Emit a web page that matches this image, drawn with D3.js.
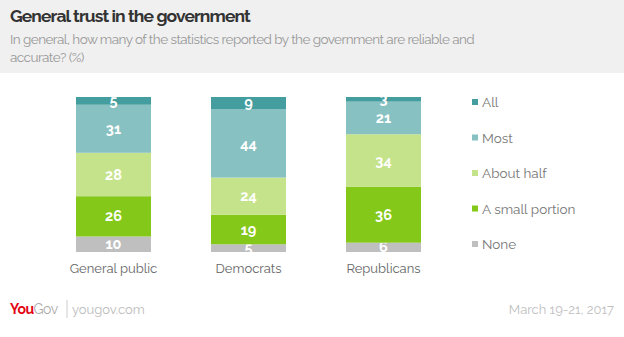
<!DOCTYPE html>
<html><head><meta charset="utf-8">
<script src="https://cdn.jsdelivr.net/npm/d3@7"></script>
<style>body{margin:0;background:#fff}svg{display:block}</style>
</head><body>
<svg id="c" width="624" height="337"></svg>
<script>
const categories = ["General public", "Democrats", "Republicans"];
const seriesNames = ["None", "A small portion", "About half", "Most", "All"];
const noneVals = [10, 5, 6];
const smallVals = [26, 19, 36];
const halfVals = [28, 24, 34];
const mostVals = [31, 44, 21];
const allVals = [5, 9, 3];
const colors = ["#bfbfbf", "#84c81a", "#c5e38a", "#88c1c2", "#449d9e"];
const legendOrder = ["All", "Most", "About half", "A small portion", "None"];

const svg = d3.select("#c");
const font = "Raleway, Lato, 'Open Sans', sans-serif";

svg.append("rect").attr("x",0).attr("y",0).attr("width",624).attr("height",73).attr("fill","#f0f0f0");
svg.append("text").attr("x",10).attr("y",22).attr("font-family",font).attr("font-size",17.5).attr("font-weight","bold").attr("letter-spacing","-0.9").attr("fill","#333").text("General trust in the government");
svg.append("text").attr("x",10).attr("y",44).attr("font-family",font).attr("font-size",13.5).attr("letter-spacing","-0.55").attr("fill","#999").text("In general, how many of the statistics reported by the government are reliable and");
svg.append("text").attr("x",10).attr("y",62).attr("font-family",font).attr("font-size",13.5).attr("letter-spacing","-0.55").attr("fill","#999").text("accurate? (%)");

const rows = categories.map((c,i)=>({cat:c,"None":noneVals[i],"A small portion":smallVals[i],"About half":halfVals[i],"Most":mostVals[i],"All":allVals[i]}));
const stack = d3.stack().keys(seriesNames)(rows);

const x = d3.scaleBand().domain(categories).range([46, 451]).paddingInner(60/135).paddingOuter(30/135);
const y = d3.scaleLinear().domain([0,100]).range([252, 97]).clamp(true);
const color = d3.scaleOrdinal().domain(seriesNames).range(colors);

const g = svg.append("g");
stack.forEach(s=>{
  s.forEach((d,i)=>{
    const y0 = y(d[0]), y1 = y(d[1]);
    g.append("rect").attr("x",x(categories[i])).attr("width",x.bandwidth())
      .attr("y",y1).attr("height",Math.max(0,y0-y1)).attr("fill",color(s.key));
    g.append("text").attr("x",x(categories[i])+x.bandwidth()/2).attr("y",(y0+y1)/2+5)
      .attr("text-anchor","middle").attr("font-family",font).attr("font-weight","bold")
      .attr("font-size",14.5).attr("fill","#fff").text(d.data[s.key]);
  });
});

const xAxis = svg.append("g").attr("transform","translate(0,252)").call(d3.axisBottom(x).tickSize(0).tickPadding(12));
xAxis.select(".domain").remove();
xAxis.selectAll("text").attr("font-family",font).attr("font-size",13).attr("fill","#666");

const leg = svg.append("g");
legendOrder.forEach((k,i)=>{
  const yy = 102 + i*35.5;
  leg.append("rect").attr("x",472).attr("y",yy-3).attr("width",6).attr("height",6).attr("fill",color(k));
  leg.append("text").attr("x",482).attr("y",yy+5).attr("font-family",font).attr("font-size",13.5).attr("fill","#777").text(k);
});

const f = svg.append("text").attr("x",10).attr("y",314).attr("font-family",font).attr("font-size",14);
f.append("tspan").attr("fill","#e30613").attr("font-weight","bold").attr("letter-spacing","-0.5").text("You");
f.append("tspan").attr("fill","#aaa").attr("letter-spacing","-0.5").text("Gov");
svg.append("line").attr("x1",67).attr("x2",67).attr("y1",300).attr("y2",318).attr("stroke","#ccc");
svg.append("text").attr("x",72).attr("y",314).attr("font-family",font).attr("font-size",13).attr("fill","#bbb").text("yougov.com");
svg.append("text").attr("x",614).attr("y",314).attr("text-anchor","end").attr("font-family",font).attr("font-size",13).attr("fill","#c0c0c0").text("March 19-21, 2017");
</script>
</body></html>
